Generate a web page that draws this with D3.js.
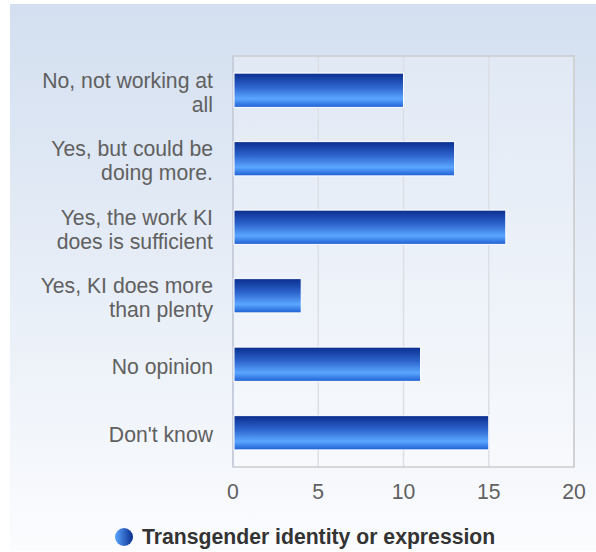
<!DOCTYPE html>
<html>
<head>
<meta charset="utf-8">
<script src="https://cdn.jsdelivr.net/npm/d3@7"></script>
<style>
  html, body { margin: 0; padding: 0; background: #fff; }
  svg { display: block; font-family: "Liberation Sans", Arial, sans-serif; }
</style>
</head>
<body>
<div id="chart"></div>
<script>
// chart data
const categories = [
    'No, not working at all',
    'Yes, but could be doing more.',
    'Yes, the work KI does is sufficient',
    'Yes, KI does more than plenty',
    'No opinion',
    "Don't know"
];
const labelLines = [
    ['No, not working at', 'all'],
    ['Yes, but could be', 'doing more.'],
    ['Yes, the work KI', 'does is sufficient'],
    ['Yes, KI does more', 'than plenty'],
    ['No opinion'],
    ["Don't know"]
];
const values = [10, 13, 16, 4, 11, 15];
const xTicks = [0, 5, 10, 15, 20];
const seriesName = 'Transgender identity or expression';

const width = 596, height = 552;
const plot = { left: 233, right: 574, top: 56, bottom: 467 };
const fontSize = 21.2;

const svg = d3.select('#chart').append('svg')
    .attr('width', width)
    .attr('height', height);

const defs = svg.append('defs');

const bg = defs.append('linearGradient')
    .attr('id', 'bg').attr('x1', 0).attr('y1', 0).attr('x2', 0).attr('y2', 1);
bg.append('stop').attr('offset', '0%').attr('stop-color', '#d3dff0');
bg.append('stop').attr('offset', '100%').attr('stop-color', '#fbfcfe');

const barGrad = defs.append('linearGradient')
    .attr('id', 'barGrad').attr('x1', 0).attr('y1', 0).attr('x2', 0).attr('y2', 1);
barGrad.append('stop').attr('offset', '0%').attr('stop-color', '#0a2d8e');
barGrad.append('stop').attr('offset', '40%').attr('stop-color', '#2c63cc');
barGrad.append('stop').attr('offset', '75%').attr('stop-color', '#5ba6ff');
barGrad.append('stop').attr('offset', '100%').attr('stop-color', '#1e5fd2');

const legGrad = defs.append('linearGradient')
    .attr('id', 'legGrad').attr('x1', 0).attr('y1', 0).attr('x2', 1).attr('y2', 0);
legGrad.append('stop').attr('offset', '0%').attr('stop-color', '#5ba6ff');
legGrad.append('stop').attr('offset', '100%').attr('stop-color', '#0a2d8e');

// background
svg.append('rect')
    .attr('x', 10).attr('y', 4)
    .attr('width', width - 10).attr('height', height - 5)
    .attr('fill', 'url(#bg)');

// plot area
svg.append('rect')
    .attr('x', plot.left).attr('y', plot.top)
    .attr('width', plot.right - plot.left).attr('height', plot.bottom - plot.top)
    .attr('fill', 'rgba(255,255,255,0.25)');

const x = d3.scaleLinear()
    .domain([0, 20])
    .range([plot.left, plot.right]);

const y = d3.scaleBand()
    .domain(categories)
    .range([plot.top, plot.bottom])
    .paddingInner(0.5)
    .paddingOuter(0.25);

// grid
svg.append('g')
    .selectAll('line')
    .data(xTicks)
    .join('line')
    .attr('x1', d => x(d)).attr('x2', d => x(d))
    .attr('y1', plot.top).attr('y2', plot.bottom)
    .attr('stroke', '#dcdfe5')
    .attr('stroke-width', 1.5);

// border
svg.append('rect')
    .attr('x', plot.left).attr('y', plot.top)
    .attr('width', plot.right - plot.left).attr('height', plot.bottom - plot.top)
    .attr('fill', 'none')
    .attr('stroke', '#cccccc')
    .attr('stroke-width', 1.5);

// left axis line
svg.append('line')
    .attr('x1', plot.left).attr('x2', plot.left)
    .attr('y1', plot.top).attr('y2', plot.bottom)
    .attr('stroke', '#c8cedb')
    .attr('stroke-width', 2);

// bars
svg.append('g')
    .selectAll('rect')
    .data(values)
    .join('rect')
    .attr('x', x(0) + 1)
    .attr('y', (d, i) => y(categories[i]))
    .attr('width', d => x(d) - x(0) - 1)
    .attr('height', y.bandwidth())
    .attr('fill', 'url(#barGrad)')
    .attr('stroke', '#ffffff')
    .attr('stroke-width', 1);

// category labels
const labels = svg.append('g')
    .selectAll('text')
    .data(categories)
    .join('text')
    .attr('text-anchor', 'end')
    .attr('fill', '#606060')
    .attr('font-size', fontSize);

labels.each(function(d, i) {
    const lines = labelLines[i];
    const cy = y(d) + y.bandwidth() / 2 + 2;
    const lh = 24;
    const y0 = cy - (lines.length - 1) * lh / 2;
    d3.select(this).selectAll('tspan')
        .data(lines)
        .join('tspan')
        .attr('x', 213)
        .attr('y', (l, j) => y0 + j * lh)
        .attr('dy', '0.35em')
        .text(l => l);
});

// x axis tick labels
svg.append('g')
    .selectAll('text')
    .data(xTicks)
    .join('text')
    .attr('x', d => x(d))
    .attr('y', 492)
    .attr('dy', '0.35em')
    .attr('text-anchor', 'middle')
    .attr('fill', '#606060')
    .attr('font-size', fontSize)
    .text(d => d);

// legend
const legend = svg.append('g');
legend.append('circle')
    .attr('cx', 124).attr('cy', 537).attr('r', 9)
    .attr('fill', 'url(#legGrad)');
legend.append('text')
    .attr('x', 142).attr('y', 537)
    .attr('dy', '0.35em')
    .attr('fill', '#333333')
    .attr('font-size', fontSize)
    .attr('font-weight', 'bold')
    .text(seriesName);
</script>
</body>
</html>
